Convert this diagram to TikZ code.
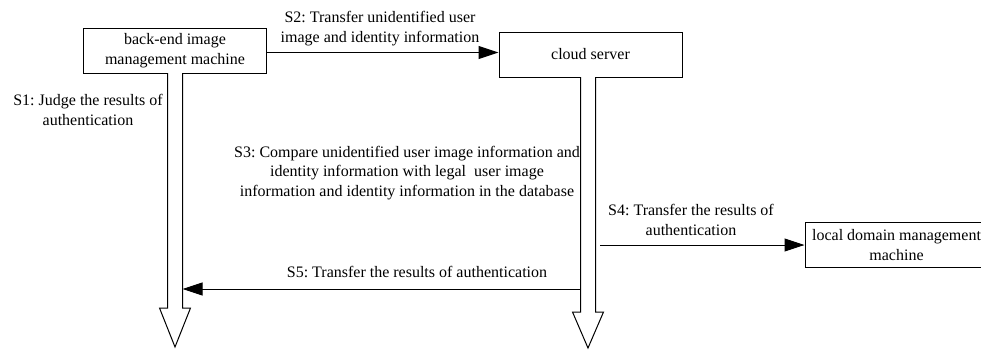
\documentclass[tikz,border=0pt]{standalone}
\usepackage{fontspec}
\setmainfont{Liberation Serif}
\usetikzlibrary{arrows.meta,positioning,calc}
\frenchspacing
\tikzset{
  machine/.style={
    rectangle, draw, line width=1pt,
    minimum width=183pt, minimum height=45pt,
    align=center, inner sep=2pt,
    font=\fontsize{16}{19.5}\selectfont
  },
  steplabel/.style={
    align=center, inner sep=0pt,
    font=\fontsize{16}{19.5}\selectfont
  },
  msg/.style={-{Triangle[length=20pt,width=13pt]}, line width=1pt},
  lifeline/.style={draw, line width=1pt, fill=white, line join=miter}
}
% hollow block arrow: x, top, head start, tip
\newcommand{\lifearrow}[4]{%
  \draw[lifeline] (#1-7.5,#2) -- (#1-7.5,#3) -- (#1-15.5,#3) -- (#1,#4)
    -- (#1+15.5,#3) -- (#1+7.5,#3) -- (#1+7.5,#2);
}
\begin{document}
\begin{tikzpicture}[x=1pt,y=-1pt]
  \clip (0,0) rectangle (981,349);

  \node[machine] (backend) at (175,50.5) {back-end image\\management machine};
  \node[machine] (cloud) at (590.5,54.5) {cloud server};
  \node[machine] (local) at (896.5,245) {local domain management\\machine};

  % lifelines
  \lifearrow{175}{73}{308}{347}
  \lifearrow{588}{77}{312}{348}
  \coordinate (backR) at (182.5,73);
  \coordinate (cloudL) at (580.5,77);
  \coordinate (cloudR) at (600,77);

  % messages
  \draw[msg] ([yshift=-2pt]backend.east) -- ([yshift=2pt]cloud.west);
  \node[steplabel] (s2) at (380,28.5)
    {S2: Transfer unidentified user\\image and identity information};

  \node[steplabel] (s1) at (88,110)
    {S1: Judge the results of\\authentication};

  \node[steplabel] (s3) at (407,173)
    {S3: Compare unidentified user image information and\\
     identity information with legal\ \ user image\\
     information and identity information in the database};

  \draw[msg] (cloudR |- local.west) -- (local.west);
  \node[steplabel] (s4) at (691,220)
    {S4: Transfer the results of\\authentication};

  \coordinate (s5start) at (cloudL |- 0,289);
  \draw[msg] (s5start) -- (backR |- s5start);
  \node[steplabel] (s5) at (417,272)
    {S5: Transfer the results of authentication};
\end{tikzpicture}
\end{document}
